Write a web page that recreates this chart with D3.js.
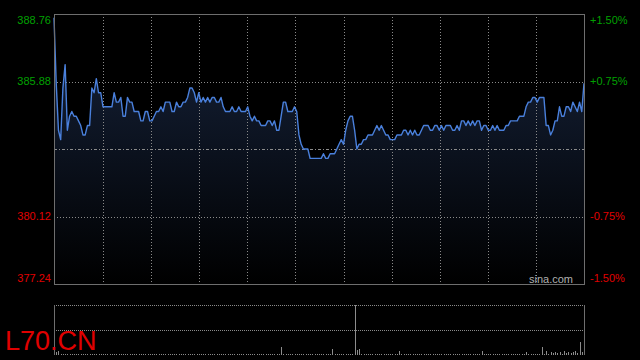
<!DOCTYPE html>
<html><head><meta charset="utf-8">
<script src="https://cdn.jsdelivr.net/npm/d3@7"></script>
<style>html,body{margin:0;padding:0;background:#000;}svg{display:block;}</style>
</head><body>
<svg id="c" width="640" height="360"></svg>
<script>
const symbol = "L70.CN";
const prevClose = 383.00;
const priceTicks = [388.76, 385.88, 380.12, 377.24];
const pctTicks = ["+1.50%", "+0.75%", "-0.75%", "-1.50%"];
const prices = [
388.6,385.8,383.8,383.4,385.6,386.6,383.8,384.4,384.6,384.4,384.4,384.2,384.0,383.6,383.6,384.0,384.0,385.6,385.4,386.0,
385.4,385.4,384.8,384.8,384.8,384.8,384.8,385.4,385.0,385.0,385.2,384.4,384.4,385.2,385.0,385.0,384.6,384.6,384.6,384.2,
384.2,384.6,384.6,384.2,384.2,384.4,384.6,384.6,384.8,384.6,385.0,385.0,385.0,384.6,384.6,385.0,384.8,384.8,385.0,385.0,
385.2,385.6,385.6,385.4,385.0,385.4,385.0,385.2,385.0,385.2,385.0,385.2,385.2,385.0,385.0,385.2,384.8,384.6,384.6,384.6,
384.8,384.6,384.6,384.8,384.6,384.6,384.6,384.8,384.4,384.2,384.4,384.2,384.2,384.0,384.0,384.0,384.2,384.2,384.0,384.2,
383.8,383.8,384.4,385.0,385.0,384.6,384.6,384.6,384.8,384.6,383.6,383.2,383.0,383.0,383.0,382.6,382.6,382.6,382.6,382.6,
382.6,382.8,382.6,382.6,382.8,382.8,382.8,383.0,383.2,383.4,383.2,383.8,384.2,384.4,384.4,383.8,383.0,383.2,383.2,383.4,
383.4,383.6,383.6,383.6,383.8,384.0,383.8,384.0,383.8,383.6,383.6,383.4,383.4,383.4,383.6,383.6,383.6,383.8,383.8,383.6,
383.8,383.6,383.8,383.6,383.6,383.8,384.0,384.0,384.0,383.8,383.8,384.0,384.0,383.8,384.0,383.8,384.0,384.0,384.0,383.8,
383.8,384.0,383.8,384.2,384.2,384.0,384.2,384.0,384.2,384.0,384.2,384.2,383.8,384.0,384.0,383.8,383.8,384.0,383.8,384.0,
383.8,383.8,383.8,384.0,384.0,384.2,384.2,384.2,384.2,384.4,384.4,384.4,384.8,385.0,385.0,385.2,385.2,385.0,385.2,385.2,
385.2,384.0,384.0,383.6,383.8,384.2,384.2,384.8,384.4,384.4,384.8,384.8,384.6,385.0,384.8,384.6,385.0,384.6,385.8
];
const volumes = [
4500,3200,3800,1500,1200,1000,1500,1200,800,1500,1000,1200,800,1500,1000,800,1200,1500,1000,1200,
800,1000,1500,1200,800,1000,1200,1500,800,1000,1200,800,1000,1500,1000,800,1200,1000,800,1000,
1200,800,1000,1200,1500,1000,800,1000,1200,800,1000,1500,1000,800,1200,1000,800,1000,1200,800,
1000,1200,800,1000,1200,800,1000,1500,1000,800,1200,1000,800,1000,1200,800,1000,1200,800,1000,
1200,800,1000,1200,800,1000,1200,800,1000,1200,800,1000,1200,800,1000,1200,800,1000,1200,800,
1000,1500,8000,1500,1000,800,1200,1000,800,1200,1500,1000,800,1200,1000,800,1200,1000,800,1000,
1200,800,1000,1200,1500,6000,1200,1000,800,1000,1200,1000,800,1200,1000,50000,5000,6500,1200,1000,
800,1000,1200,800,1000,1200,1000,800,1200,1000,800,1200,1000,800,1200,4500,1000,800,1200,1000,
800,1000,1200,800,1000,1200,800,1000,1200,800,1000,1200,800,1000,1200,800,1000,1200,800,1000,
1200,800,1000,1200,800,1000,1200,800,1000,1200,800,1000,4000,1200,800,1000,1200,800,1000,1200,
800,1000,1200,800,1000,1200,800,1000,1200,800,1000,1200,3500,1200,1000,800,1200,1000,1500,8000,
1500,4000,1500,3000,2000,3500,2000,3000,1500,4500,2500,3000,2000,3500,4000,2500,13000,3000,2000
];

const svg = d3.select("#c");
const L = 54, R = 584, T = 14, B = 284;
const VT = 305, VB = 355;
const x = d3.scaleLinear().domain([0, prices.length - 1]).range([L, R]);
const y = d3.scaleLinear().domain([377.24, 388.76]).range([B, T]);
const yv = d3.scaleLinear().domain([0, 50000]).range([VB, VT]).clamp(true);

const defs = svg.append("defs");
const g = defs.append("linearGradient").attr("id", "fill").attr("gradientUnits", "userSpaceOnUse")
  .attr("x1", 0).attr("x2", 0).attr("y1", T).attr("y2", B);
g.append("stop").attr("offset", 0).attr("stop-color", "#17243d");
g.append("stop").attr("offset", 1).attr("stop-color", "#000000");

// area fill
svg.append("path").datum(prices)
  .attr("d", d3.area().x((d, i) => x(i)).y0(B).y1(d => y(d)))
  .attr("fill", "url(#fill)");

// vertical dotted grid
const vg = d3.range(1, 11).map(k => L + (R - L) * k / 11);
svg.append("g").selectAll("line").data(vg).join("line")
  .attr("x1", d => Math.ceil(d) + 0.5).attr("x2", d => Math.ceil(d) + 0.5)
  .attr("y1", T).attr("y2", B)
  .attr("stroke", "#8a8a8a").attr("stroke-dasharray", "1,2").attr("shape-rendering", "crispEdges");

// horizontal dotted grid
svg.append("g").selectAll("line").data([385.88, 380.12]).join("line")
  .attr("x1", L).attr("x2", R)
  .attr("y1", d => Math.round(y(d)) + 0.5).attr("y2", d => Math.round(y(d)) + 0.5)
  .attr("stroke", "#8a8a8a").attr("stroke-dasharray", "1,2").attr("shape-rendering", "crispEdges");

// prev close line
svg.append("line").attr("x1", L).attr("x2", R)
  .attr("y1", Math.round(y(prevClose)) + 0.5).attr("y2", Math.round(y(prevClose)) + 0.5)
  .attr("stroke", "#8c8c8c").attr("stroke-dasharray", "3,2,1,2").attr("shape-rendering", "crispEdges");

// price line
svg.append("path").datum(prices)
  .attr("d", d3.line().x((d, i) => x(i)).y(d => y(d)))
  .attr("fill", "none").attr("stroke", "#4a80dc").attr("stroke-width", 1.4).attr("stroke-linejoin", "round");

// border of main panel
svg.append("rect").attr("x", L + 0.5).attr("y", T + 0.5).attr("width", R - L).attr("height", B - T)
  .attr("fill", "none").attr("stroke", "#6e6e6e").attr("shape-rendering", "crispEdges");

// left labels
const lbl = svg.append("g").attr("font-family", "Liberation Sans, Arial, sans-serif").attr("font-size", 11);
const ly = [T + 6, y(385.88), y(380.12), B - 6];
lbl.selectAll("text.l").data(priceTicks).join("text").attr("class", "l")
  .attr("x", 51).attr("y", (d, i) => ly[i]).attr("dy", "0.36em").attr("text-anchor", "end")
  .attr("fill", d => d > prevClose ? "#00a000" : "#e00000").text(d => d.toFixed(2));
lbl.selectAll("text.r").data(pctTicks).join("text").attr("class", "r")
  .attr("x", 590).attr("y", (d, i) => ly[i]).attr("dy", "0.36em")
  .attr("fill", d => d[0] === "+" ? "#00a000" : "#e00000").text(d => d);

svg.append("text").attr("x", 573).attr("y", 283).attr("text-anchor", "end")
  .attr("font-family", "Liberation Sans, Arial, sans-serif").attr("font-size", 11)
  .attr("fill", "#b0b0b0").text("sina.com");

// volume panel
svg.append("g").selectAll("line").data([VT, (VT + VB) / 2]).join("line")
  .attr("x1", L).attr("x2", R).attr("y1", d => Math.round(d) + 0.5).attr("y2", d => Math.round(d) + 0.5)
  .attr("stroke", "#8a8a8a").attr("stroke-dasharray", "1,1").attr("shape-rendering", "crispEdges");
svg.append("g").selectAll("rect").data(volumes).join("rect")
  .attr("x", (d, i) => Math.round(x(i))).attr("width", 1)
  .attr("y", d => yv(d)).attr("height", d => VB - yv(d))
  .attr("fill", "#8c8c8c").attr("shape-rendering", "crispEdges");
svg.append("g").selectAll("line").data([L, R]).join("line")
  .attr("x1", d => d + 0.5).attr("x2", d => d + 0.5).attr("y1", VT).attr("y2", VB)
  .attr("stroke", "#6e6e6e").attr("shape-rendering", "crispEdges");

svg.append("text").attr("x", 5).attr("y", 350)
  .attr("font-family", "Liberation Sans, Arial, sans-serif").attr("font-size", 27)
  .attr("fill", "#e00000").text(symbol);
</script>
</body></html>
